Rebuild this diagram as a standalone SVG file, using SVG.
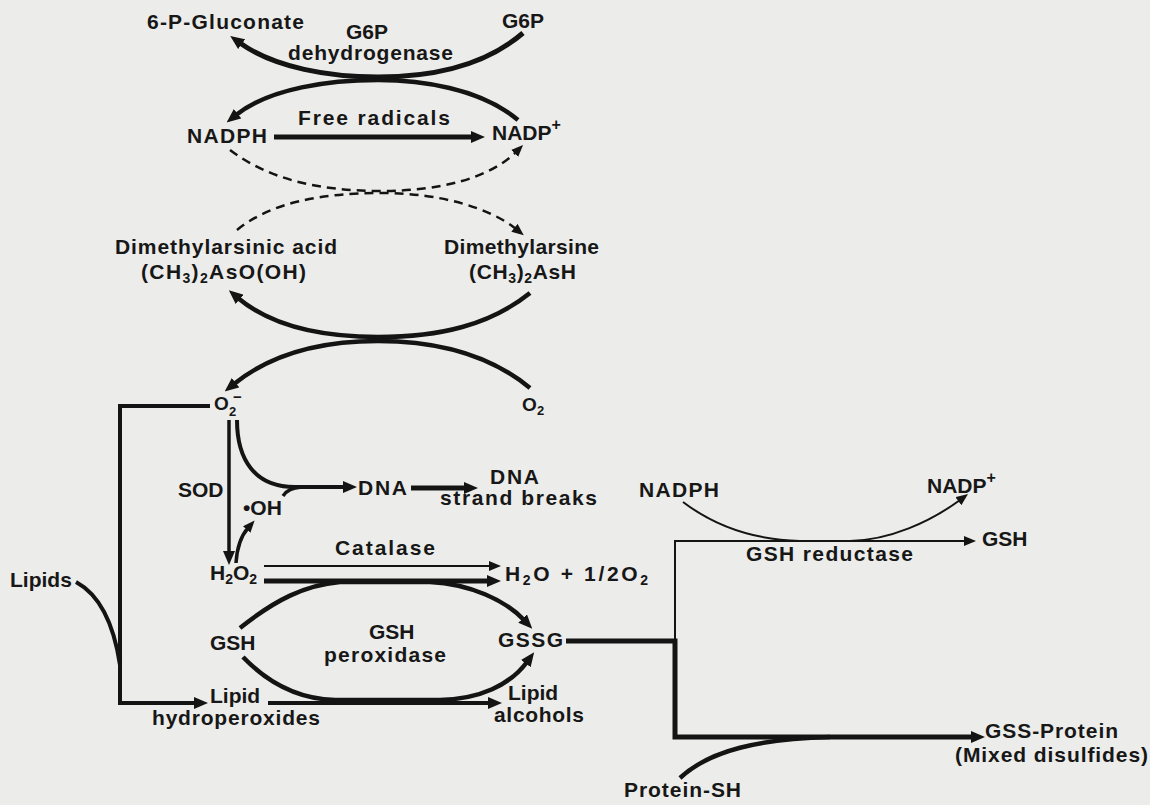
<svg xmlns="http://www.w3.org/2000/svg" width="1150" height="805" viewBox="0 0 1150 805">
<style>
.t{font-family:"Liberation Sans",Arial,sans-serif;font-weight:bold;font-size:21px;fill:#171717}
.s{font-size:14px}
.c{fill:none;stroke:#141414}
.d{fill:none;stroke:#141414;stroke-width:2.5;stroke-dasharray:9 6}
</style>
<defs>
<marker id="a" viewBox="0 0 14 12" refX="2" refY="6" markerWidth="14" markerHeight="12" markerUnits="userSpaceOnUse" orient="auto"><path d="M0,0 L14,6 L0,12 z" fill="#141414"/></marker>
<marker id="b" viewBox="0 0 12 10" refX="2" refY="5" markerWidth="12" markerHeight="10" markerUnits="userSpaceOnUse" orient="auto"><path d="M0,0 L12,5 L0,10 z" fill="#141414"/></marker>
</defs>
<rect width="1150" height="805" fill="#ececea"/>

<g id="connectors">
  <path class="c" stroke-width="5" d="M523,33 C480,70 420,77 378,77 C330,77 275,68 240,43" marker-end="url(#a)"/>
  <path class="c" stroke-width="4.5" d="M518,120 C480,88 420,80 378,80 C330,80 270,88 236,115" marker-end="url(#a)"/>
  <path class="c" stroke-width="5" d="M274,137 L473,137" marker-end="url(#a)"/>
  <path class="d" d="M230,150 C270,180 320,191 382,191 C440,191 490,178 516,152" marker-end="url(#b)"/>
  <path class="d" d="M237,230 C270,203 320,193 382,193 C440,193 490,208 516,229" marker-end="url(#b)"/>
  <path class="c" stroke-width="4.5" d="M530,293 C490,325 440,337 378,337 C320,337 270,325 238,298" marker-end="url(#a)"/>
  <path class="c" stroke-width="4.5" d="M530,388 C490,355 440,341 378,341 C320,341 270,355 234,384" marker-end="url(#a)"/>
  <path class="c" stroke-width="4" d="M210,406 L120,406 L120,703 L196,703" marker-end="url(#a)"/>
  <path class="c" stroke-width="4" d="M76,582 C100,595 114,625 120,665"/>
  <path class="c" stroke-width="3.5" d="M229,420 L229,553" marker-end="url(#a)"/>
  <path class="c" stroke-width="3.5" d="M236,563 C237,548 240,537 248,528" marker-end="url(#b)"/>
  <path class="c" stroke-width="4" d="M237,420 C237,460 255,487 295,487 L345,487" marker-end="url(#a)"/>
  <path class="c" stroke-width="3.5" d="M283,496 C287,490 292,488 302,487"/>
  <path class="c" stroke-width="5" d="M411,488 L466,488" marker-end="url(#a)"/>
  <path class="c" stroke-width="2" d="M264,566 L491,566" marker-end="url(#b)"/>
  <path class="c" stroke-width="5" d="M264,581 L489,581" marker-end="url(#a)"/>
  <path class="c" stroke-width="4.5" d="M240,628 C275,600 305,585 340,582 L430,582 C470,584 505,600 524,620" marker-end="url(#a)"/>
  <path class="c" stroke-width="4.5" d="M243,657 C270,685 300,699 335,700 L440,700 C480,699 510,685 527,662" marker-end="url(#a)"/>
  <path class="c" stroke-width="4" d="M268,703 L490,703" marker-end="url(#a)"/>
  <path class="c" stroke-width="2" d="M675,642 L675,541 L966,541" marker-end="url(#b)"/>
  <path class="c" stroke-width="5" d="M566,641 L675,641 L675,737 L973,737" marker-end="url(#a)"/>
  <path class="c" stroke-width="2" d="M683,502 C720,530 760,540 800,541 L850,541 C890,540 930,522 960,500" marker-end="url(#b)"/>
  <path class="c" stroke-width="4.5" d="M680,778 C710,750 760,739 830,737"/>
</g>

<g id="n-6pg"><text class="t" x="147" y="29" textLength="157" lengthAdjust="spacing">6-P-Gluconate</text></g>
<g id="n-g6pd"><text class="t" x="346" y="39">G6P</text><text class="t" x="288" y="60" textLength="165" lengthAdjust="spacing">dehydrogenase</text></g>
<g id="n-g6p"><text class="t" x="502" y="28">G6P</text></g>
<g id="n-nadph1"><text class="t" x="187" y="143" textLength="80" lengthAdjust="spacing">NADPH</text></g>
<g id="n-free"><text class="t" x="298" y="125" textLength="152" lengthAdjust="spacing">Free radicals</text></g>
<g id="n-nadp1"><text class="t" x="492" y="140">NADP<tspan dy="-10" font-size="16">+</tspan></text></g>
<g id="n-dma"><text class="t" x="115" y="254" textLength="222" lengthAdjust="spacing">Dimethylarsinic acid</text>
<text class="t" x="141" y="279" textLength="165" lengthAdjust="spacing">(CH<tspan class="s" dy="4">3</tspan><tspan dy="-4">)</tspan><tspan class="s" dy="4">2</tspan><tspan dy="-4">AsO(OH)</tspan></text></g>
<g id="n-dmar"><text class="t" x="444" y="254" textLength="155" lengthAdjust="spacing">Dimethylarsine</text>
<text class="t" x="469" y="279" textLength="107" lengthAdjust="spacing">(CH<tspan class="s" dy="4">3</tspan><tspan dy="-4">)</tspan><tspan class="s" dy="4">2</tspan><tspan dy="-4">AsH</tspan></text></g>
<g id="n-o2m"><text class="t" x="214" y="410" style="font-size:19px">O<tspan x="229" y="416" font-size="13">2</tspan><tspan x="233" y="402" font-size="15">−</tspan></text></g>
<g id="n-o2"><text class="t" x="522" y="411" style="font-size:19px">O<tspan x="537" y="415" font-size="13">2</tspan></text></g>
<g id="n-sod"><text class="t" x="178" y="497">SOD</text></g>
<g id="n-oh"><text class="t" x="243" y="515">•OH</text></g>
<g id="n-dna"><text class="t" x="358" y="495" textLength="49" lengthAdjust="spacing">DNA</text></g>
<g id="n-dnasb"><text class="t" x="490" y="484" textLength="49" lengthAdjust="spacing">DNA</text><text class="t" x="440" y="505" textLength="157" lengthAdjust="spacing">strand breaks</text></g>
<g id="n-cat"><text class="t" x="335" y="555" textLength="100" lengthAdjust="spacing">Catalase</text></g>
<g id="n-h2o2"><text class="t" x="210" y="580">H<tspan class="s" dy="4">2</tspan><tspan dy="-4">O</tspan><tspan class="s" dy="4">2</tspan></text></g>
<g id="n-h2o"><text class="t" x="505" y="581" textLength="143" lengthAdjust="spacing">H<tspan class="s" dy="4">2</tspan><tspan dy="-4">O + 1/2O</tspan><tspan class="s" dy="4">2</tspan></text></g>
<g id="n-lipids"><text class="t" x="10" y="587">Lipids</text></g>
<g id="n-gsh1"><text class="t" x="210" y="650">GSH</text></g>
<g id="n-gpx"><text class="t" x="369" y="639">GSH</text><text class="t" x="324" y="662" textLength="122" lengthAdjust="spacing">peroxidase</text></g>
<g id="n-gssg"><text class="t" x="498" y="647" textLength="65" lengthAdjust="spacing">GSSG</text></g>
<g id="n-lhp"><text class="t" x="210" y="703">Lipid</text><text class="t" x="152" y="725" textLength="168" lengthAdjust="spacing">hydroperoxides</text></g>
<g id="n-lalc"><text class="t" x="508" y="700">Lipid</text><text class="t" x="494" y="722" textLength="90" lengthAdjust="spacing">alcohols</text></g>
<g id="n-nadph2"><text class="t" x="639" y="497" textLength="80" lengthAdjust="spacing">NADPH</text></g>
<g id="n-nadp2"><text class="t" x="927" y="493">NADP<tspan dy="-10" font-size="16">+</tspan></text></g>
<g id="n-gsh2"><text class="t" x="982" y="546">GSH</text></g>
<g id="n-gr"><text class="t" x="746" y="561" textLength="167" lengthAdjust="spacing">GSH reductase</text></g>
<g id="n-gssp"><text class="t" x="985" y="738" textLength="133" lengthAdjust="spacing">GSS-Protein</text><text class="t" x="955" y="762" textLength="193" lengthAdjust="spacing">(Mixed disulfides)</text></g>
<g id="n-psh"><text class="t" x="624" y="797" textLength="117" lengthAdjust="spacing">Protein-SH</text></g>
</svg>
